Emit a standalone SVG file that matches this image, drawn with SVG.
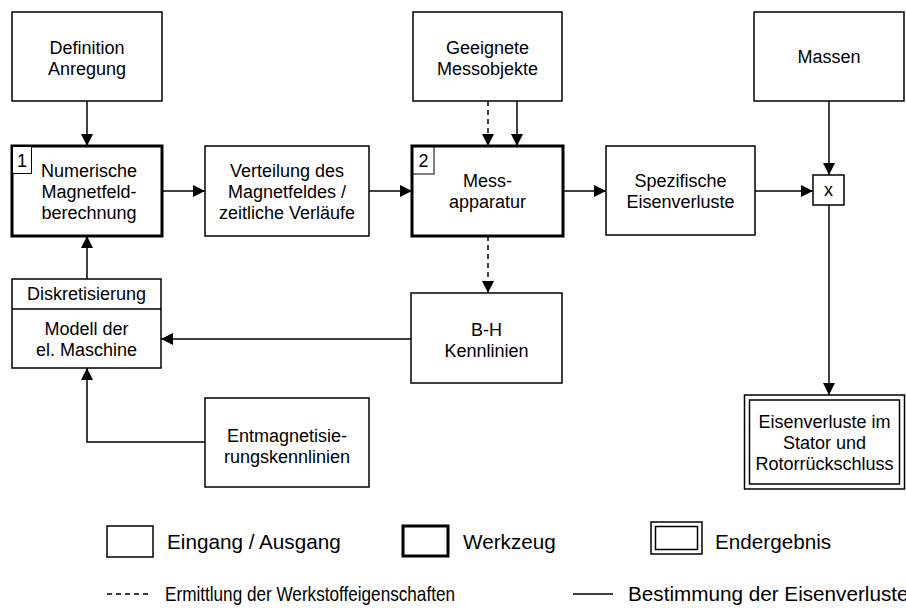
<svg xmlns="http://www.w3.org/2000/svg" width="906" height="608" viewBox="0 0 906 608">
<style>
  .box { fill: #fff; stroke: #000; stroke-width: 1.5; }
  .tool { fill: #fff; stroke: #000; stroke-width: 3; }
  .thin { fill: #fff; stroke: #000; stroke-width: 1; }
  .t { font-family: "Liberation Sans", Arial, sans-serif; font-size: 18px; fill: #000; text-anchor: middle; }
  .lg { font-family: "Liberation Sans", Arial, sans-serif; font-size: 20.7px; fill: #000; }
  .c { fill: none; stroke: #000; stroke-width: 1.5; }
  .d { fill: none; stroke: #000; stroke-width: 1.5; stroke-dasharray: 5 4; }
</style>
<defs>
  <marker id="ah" viewBox="0 0 12 12" refX="12" refY="6" markerWidth="12" markerHeight="12" markerUnits="userSpaceOnUse" orient="auto">
    <path d="M0,0 L12,6 L0,12 Z" fill="#000"/>
  </marker>
</defs>
<rect width="906" height="608" fill="#fff"/>

<g id="connectors">
  <line class="c" x1="87" y1="101" x2="87" y2="146" marker-end="url(#ah)"/>
  <line class="c" x1="162" y1="191" x2="205" y2="191" marker-end="url(#ah)"/>
  <line class="c" x1="369" y1="191" x2="412" y2="191" marker-end="url(#ah)"/>
  <line class="d" x1="488" y1="101" x2="488" y2="146" marker-end="url(#ah)"/>
  <line class="c" x1="517" y1="101" x2="517" y2="146" marker-end="url(#ah)"/>
  <line class="c" x1="563" y1="191" x2="606" y2="191" marker-end="url(#ah)"/>
  <line class="c" x1="755" y1="191" x2="813" y2="191" marker-end="url(#ah)"/>
  <line class="c" x1="829" y1="101" x2="829" y2="175" marker-end="url(#ah)"/>
  <line class="c" x1="829" y1="205" x2="829" y2="395" marker-end="url(#ah)"/>
  <line class="d" x1="488" y1="236" x2="488" y2="293" marker-end="url(#ah)"/>
  <line class="c" x1="411" y1="339" x2="161" y2="339" marker-end="url(#ah)"/>
  <line class="c" x1="87" y1="279" x2="87" y2="236" marker-end="url(#ah)"/>
  <polyline class="c" points="205,442 87,442 87,368" marker-end="url(#ah)"/>
</g>

<g id="definition">
  <rect class="box" x="12" y="12" width="150" height="89"/>
  <text class="t" x="87" y="54">Definition</text>
  <text class="t" x="87" y="75">Anregung</text>
</g>

<g id="numerische">
  <rect class="tool" x="12" y="146" width="150" height="90"/>
  <rect class="thin" x="12.5" y="146.5" width="19" height="27"/>
  <text class="t" x="22" y="167">1</text>
  <text class="t" x="89" y="176.5">Numerische</text>
  <text class="t" x="89" y="197.5">Magnetfeld-</text>
  <text class="t" x="89" y="218.5">berechnung</text>
</g>

<g id="verteilung">
  <rect class="box" x="205" y="146" width="164" height="90"/>
  <text class="t" x="287" y="176.5">Verteilung des</text>
  <text class="t" x="287" y="197.5">Magnetfeldes /</text>
  <text class="t" x="287" y="218.5">zeitliche Verläufe</text>
</g>

<g id="geeignete">
  <rect class="box" x="413" y="12" width="149" height="89"/>
  <text class="t" x="487.5" y="54">Geeignete</text>
  <text class="t" x="487.5" y="75">Messobjekte</text>
</g>

<g id="messapparatur">
  <rect class="tool" x="412" y="146" width="151" height="90"/>
  <rect class="thin" x="413" y="147" width="21" height="27"/>
  <text class="t" x="423.5" y="167">2</text>
  <text class="t" x="487.5" y="187">Mess-</text>
  <text class="t" x="487.5" y="208">apparatur</text>
</g>

<g id="spezifische">
  <rect class="box" x="606" y="146" width="149" height="89"/>
  <text class="t" x="680.5" y="187">Spezifische</text>
  <text class="t" x="680.5" y="208">Eisenverluste</text>
</g>

<g id="massen">
  <rect class="box" x="754" y="12" width="150" height="89"/>
  <text class="t" x="829" y="63">Massen</text>
</g>

<g id="multiply">
  <rect class="box" x="813" y="175" width="31" height="30"/>
  <text class="t" x="828.5" y="196">x</text>
</g>

<g id="modell">
  <rect class="box" x="12" y="279" width="149" height="89"/>
  <line class="c" x1="12" y1="309" x2="161" y2="309"/>
  <text class="t" x="86.5" y="300">Diskretisierung</text>
  <text class="t" x="86.5" y="335">Modell der</text>
  <text class="t" x="86.5" y="356">el. Maschine</text>
</g>

<g id="bh">
  <rect class="box" x="411" y="293" width="151" height="90"/>
  <text class="t" x="486.5" y="336">B-H</text>
  <text class="t" x="486.5" y="357">Kennlinien</text>
</g>

<g id="entmagnetisierung">
  <rect class="box" x="205" y="398" width="164" height="89"/>
  <text class="t" x="287" y="442">Entmagnetisie-</text>
  <text class="t" x="287" y="463">rungskennlinien</text>
</g>

<g id="endergebnis">
  <rect class="box" x="744.5" y="395" width="160" height="94" stroke-width="2"/>
  <rect class="box" x="749.5" y="400" width="150" height="84"/>
  <text class="t" x="824.5" y="427.5">Eisenverluste im</text>
  <text class="t" x="824.5" y="448.5">Stator und</text>
  <text class="t" x="824.5" y="469.5">Rotorrückschluss</text>
</g>

<g id="legend">
  <rect class="box" x="107" y="526" width="46" height="31"/>
  <text class="lg" x="167" y="549">Eingang / Ausgang</text>
  <rect class="tool" x="403" y="526" width="45" height="30"/>
  <text class="lg" x="463" y="549">Werkzeug</text>
  <rect class="box" x="651" y="522" width="51" height="32" stroke-width="2"/>
  <rect class="box" x="655.5" y="526.5" width="42" height="23"/>
  <text class="lg" x="715" y="549">Endergebnis</text>
  <line class="d" x1="107" y1="594" x2="150" y2="594" stroke-dasharray="4 3" stroke-width="1"/>
  <text class="lg" x="165" y="601" textLength="290" lengthAdjust="spacingAndGlyphs">Ermittlung der Werkstoffeigenschaften</text>
  <line class="c" x1="573" y1="594" x2="613" y2="594" stroke-width="1"/>
  <text class="lg" x="628" y="601" font-size="20.5">Bestimmung der Eisenverluste</text>
</g>
</svg>
